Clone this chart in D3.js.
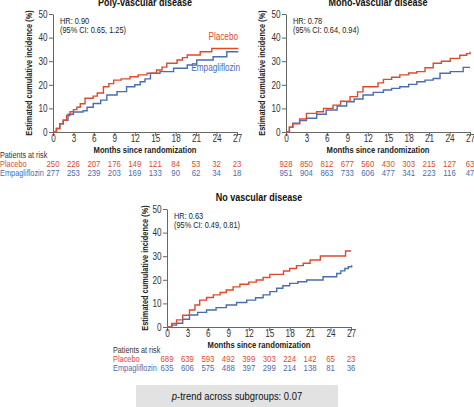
<!DOCTYPE html>
<html><head><meta charset="utf-8">
<script src="https://cdn.jsdelivr.net/npm/d3@7"></script>
<style>body{margin:0;background:#fff;}svg{display:block;font-family:"Liberation Sans",Arial,sans-serif;}</style>
</head><body>
<svg id="c" width="474" height="407"></svg>
<script>
const titles = ["Poly-vascular disease", "Mono-vascular disease", "No vascular disease"];
const hrLines = [["HR: 0.90", "(95% CI: 0.65, 1.25)"], ["HR: 0.78", "(95% CI: 0.64, 0.94)"], ["HR: 0.63", "(95% CI: 0.49, 0.81)"]];
const xTicks = [0, 3, 6, 9, 12, 15, 18, 21, 24, 27];
const yTicks = [0, 10, 20, 30, 40, 50];
const riskPlacebo = [[250,226,207,176,149,121,84,53,32,23],[928,850,812,677,560,430,303,215,127,63],[689,639,593,492,399,303,224,142,65,23]];
const riskEmpa = [[277,253,239,203,169,133,90,62,34,18],[951,904,863,733,606,477,341,223,116,47],[635,606,575,488,397,299,214,138,81,36]];
// [month, cumulative incidence %]
const polyPlacebo = [[0,0],[0.5,1.5],[1,3.5],[1.5,5],[2,7],[2.5,8.6],[3,9.5],[3.5,10.5],[4,12],[4.7,14.3],[5.9,15.2],[6.5,16.5],[7.4,19.2],[8.2,20.5],[8.9,22],[10,22.5],[11.3,23.4],[12.5,24.2],[13.8,24.9],[15.2,26.3],[16,27.5],[16.7,29.1],[18.2,30.5],[19,31.5],[19.7,32.6],[21.6,34.0],[23.3,35.4],[27.2,35.4]];
const polyEmpa = [[0,0],[0.5,1.5],[1,3.5],[1.5,5],[2.2,7.5],[3,8.5],[4.4,9],[5,10.5],[5.9,12.1],[7,13.5],[7.9,15.7],[9.4,17.1],[10.8,19.2],[12,20],[12.8,21.3],[13.5,22.5],[14.3,24.9],[15.7,25.6],[17.7,27],[19.7,28.4],[21.1,30.5],[23.5,31.9],[25.5,34.0],[27.2,34.0]];
const monoPlacebo = [[0,0],[0.5,2],[1,3.5],[2,5.5],[3,7.9],[4.5,8.6],[5.5,10],[6.9,11.4],[8,13],[9.4,15.0],[10.5,17],[11.3,19.2],[12.8,19.2],[13.5,20.8],[14.3,22.3],[15.5,23.2],[16.7,24.2],[18,25],[19.2,25.6],[20.4,27.2],[21.6,29.1],[22.8,30],[24.1,31.2],[25.5,32.5],[26.5,33.2],[27,34.0]];
const monoEmpa = [[0,0],[0.5,2],[1,3.7],[2,4.8],[3,5.8],[4.5,7.5],[5.9,9.3],[7.5,11],[8.9,12.8],[10,14],[11.3,15.7],[12.8,16.8],[14.3,17.8],[15.5,18.5],[16.7,19.2],[18,20.2],[19.2,21.3],[20.4,22],[21.6,22.7],[22.6,24.9],[24.1,25.6],[25.6,25.6],[26,27.4],[27,27.4]];
const nonePlacebo = [[0,0],[0.7,1.5],[1.4,3.0],[2.3,5],[3.3,7.2],[4.1,9.3],[4.8,11.4],[5.8,12.5],[6.8,13.6],[7.8,14.6],[8.7,15.7],[9.7,17],[10.7,18.1],[12,19],[13.1,19.9],[14.1,21],[15.1,22.3],[17.1,23.7],[18,24.8],[19.0,26],[20,27],[21.0,28.4],[22.5,30.1],[26.1,30.1],[26.2,32.2],[27,32.2]];
const noneEmpa = [[0,0],[0.7,0.8],[1.4,1.6],[2.3,3.3],[3.3,5.1],[4.5,6.2],[5.8,7.2],[7.2,8.2],[8.7,9.3],[10.2,10.4],[11.7,11.4],[13,12.4],[14.1,13.6],[15.1,15],[16.1,16.4],[17,17.5],[18.0,18.5],[19.2,19.2],[20.5,19.9],[22.9,21.3],[24.9,22.7],[25.5,23.8],[26.1,24.8],[26.6,25.5],[27.1,26.2]];
const placeboSeries = [polyPlacebo, monoPlacebo, nonePlacebo];
const empaSeries = [polyEmpa, monoEmpa, noneEmpa];

const RED = "#dd4a2c", BLUE = "#4a6cb0", AX = "#666";
const SX = 0.82; // horizontally condensed lettering like the reference
const svg = d3.select("#c");

function txt(parent, x, y, s, o = {}) {
  const t = parent.append("text")
    .attr("transform", `translate(${x},${y})${o.rot ? " rotate(-90)" : ""} scale(${SX},1)`)
    .attr("text-anchor", o.anchor || "start")
    .attr("font-size", o.size || 10)
    .attr("fill", o.fill || "#222");
  if (o.bold) t.attr("font-weight", "bold");
  if (o.dy) t.attr("dy", o.dy);
  t.text(s);
  return t;
}

const panels = [
  {x0: 53, x1: 237, y0: 132, y1: 14, ylab: 29, rowLabels: true, rowX: 0, labels: true},
  {x0: 286, x1: 470, y0: 132, y1: 14, ylab: 262, rowLabels: false},
  {x0: 167, x1: 351, y0: 327, y1: 209, ylab: 145, rowLabels: true, rowX: 113}
];

panels.forEach((p, i) => {
  const x = d3.scaleLinear().domain([0, 27]).range([p.x0, p.x1]);
  const y = d3.scaleLinear().domain([0, 50]).range([p.y0, p.y1]);
  const g = svg.append("g");
  txt(g, (p.x0 + p.x1) / 2, p.y1 - 8, titles[i], {anchor: "middle", size: 11, bold: true, fill: "#111"});
  const xa = g.append("g").attr("transform", `translate(0,${p.y0})`)
    .call(d3.axisBottom(x).tickValues(xTicks).tickSize(4).tickPadding(2).tickSizeOuter(0));
  const ya = g.append("g").attr("transform", `translate(${p.x0},0)`)
    .call(d3.axisLeft(y).tickValues(yTicks).tickSize(4).tickPadding(2).tickSizeOuter(0));
  [xa, ya].forEach(a => {
    a.select(".domain").attr("stroke", AX);
    a.selectAll(".tick line").attr("stroke", AX);
    a.selectAll("text").attr("font-size", 10).attr("fill", "#333");
  });
  xa.selectAll(".tick text").attr("y", 0).attr("dy", 0).attr("transform", `translate(0,10) scale(${SX},1)`);
  ya.selectAll(".tick text").attr("x", 0).attr("transform", `translate(-5.5,0) scale(${SX},1)`);
  txt(g, (p.x0 + p.x1) / 2, p.y0 + 20.5, "Months since randomization", {anchor: "middle", size: 9.3, bold: true});
  txt(g, p.ylab, (p.y0 + p.y1) / 2, "Estimated cumulative incidence (%)", {anchor: "middle", size: 9, bold: true, rot: true, dy: "0.35em"});
  hrLines[i].forEach((t, k) => txt(g, p.x0 + 7, p.y1 + 9.8 + k * 9.2, t, {size: 9}));
  const line = d3.line().x(d => x(d[0])).y(d => y(d[1])).curve(d3.curveStepAfter);
  g.append("path").datum(empaSeries[i]).attr("d", line).attr("fill", "none").attr("stroke", BLUE).attr("stroke-width", 1.4);
  g.append("path").datum(placeboSeries[i]).attr("d", line).attr("fill", "none").attr("stroke", RED).attr("stroke-width", 1.4);
  if (p.labels) {
    txt(g, p.x1 + 1, y(38.8), "Placebo", {anchor: "end", size: 10, fill: RED});
    txt(g, p.x1 + 3, y(25.9), "Empagliflozin", {anchor: "end", size: 10, fill: BLUE});
  }
  if (p.rowLabels) {
    txt(g, p.rowX, p.y0 + 26, "Patients at risk", {size: 8.8, fill: "#333"});
    txt(g, p.rowX, p.y0 + 35, "Placebo", {size: 9, fill: RED});
    txt(g, p.rowX, p.y0 + 44, "Empagliflozin", {size: 9, fill: BLUE});
  }
  riskPlacebo[i].forEach((v, k) => txt(g, x(xTicks[k]), p.y0 + 35, v, {anchor: "middle", size: 9.5, fill: RED}));
  riskEmpa[i].forEach((v, k) => txt(g, x(xTicks[k]), p.y0 + 44, v, {anchor: "middle", size: 9.5, fill: BLUE}));
});

svg.append("rect").attr("x", 136).attr("y", 385).attr("width", 202).attr("height", 22).attr("fill", "#e2e2e2");
const pt = txt(svg, 237, 400, "", {anchor: "middle", size: 11.5, fill: "#111"});
pt.append("tspan").attr("font-style", "italic").text("p");
pt.append("tspan").text("-trend across subgroups: 0.07");
</script>
</body></html>
